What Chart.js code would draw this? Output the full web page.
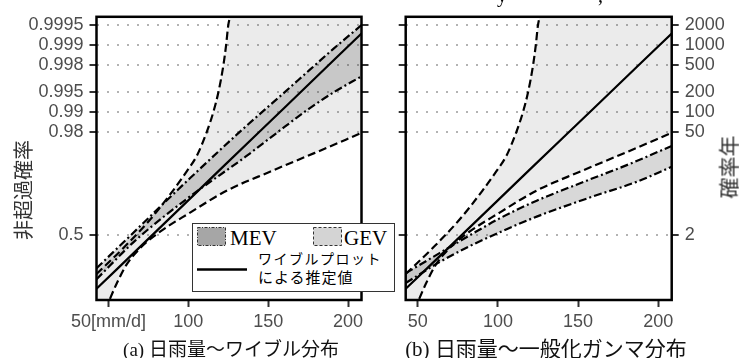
<!DOCTYPE html>
<html>
<head>
<meta charset="utf-8">
<script src="https://cdn.jsdelivr.net/npm/chart.js@4.4.1/dist/chart.umd.min.js"></script>
<style>
  body { margin: 0; background: #fff; }
  #wrap { position: relative; width: 739px; height: 358px; overflow: hidden; }
  #wrap canvas { position: absolute; left: 0; top: 0; }
  .txt { position: absolute; white-space: nowrap; line-height: 1; }
  .jp { font-family: 'Noto Sans CJK JP', sans-serif; }
  .serif { font-family: 'Liberation Serif', 'DejaVu Serif', serif; }
  .rot { transform: translate(-50%, -50%) rotate(-90deg); color: #333; }
  .cap { transform: translateX(-50%); font-size: 20px; color: #111; }
  #legend { position: absolute; left: 192px; top: 223px; width: 203px; height: 69px;
            box-sizing: border-box; border: 1px solid #333; background: #fff; }
</style>
</head>
<body>
<div id="wrap">
  <canvas id="chartA" width="739" height="358"></canvas>
  <canvas id="chartB" width="739" height="358"></canvas>

  <!-- bottom edge of a text line that sits above the figure -->
  <div class="txt serif" style="left:497px; top:-15.5px; font-size:20px;">y</div>
  <div class="txt serif" style="left:598px; top:-15.5px; font-size:20px;">,</div>

  <div class="txt jp rot" style="left:23px; top:190px; font-size:20px;">非超過確率</div>
  <div class="txt jp rot" style="left:728px; top:167px; font-size:21px;">確率年</div>

  <div class="txt cap" style="left:231px; top:338px; font-size:19px;"><span class="serif">(a)</span> <span class="jp">日雨量〜ワイブル分布</span></div>
  <div class="txt cap" style="left:546px; top:337px; font-size:21px;"><span class="serif">(b)</span> <span class="jp">日雨量〜一般化ガンマ分布</span></div>

  <div id="legend">
    <svg width="201" height="67" style="position:absolute; left:0; top:0;">
      <rect x="4.5" y="3.5" width="28" height="18" fill="#a6a6a6" stroke="#333" stroke-width="1" stroke-dasharray="3 1.5 1 1.5"/>
      <rect x="120.5" y="3.5" width="28" height="18" fill="#d4d4d4" stroke="#333" stroke-width="1" stroke-dasharray="3 2"/>
      <line x1="4" y1="45.5" x2="54" y2="45.5" stroke="#000" stroke-width="2.5"/>
    </svg>
    <div class="txt serif" style="left:37px; top:4px; font-size:21px;">MEV</div>
    <div class="txt serif" style="left:151px; top:4px; font-size:21px;">GEV</div>
    <div class="txt jp" style="left:65px; top:27px; font-size:14px; letter-spacing:1.5px;">ワイブルプロット</div>
    <div class="txt jp" style="left:65px; top:45px; font-size:15px; letter-spacing:1px;">による推定値</div>
  </div>
</div>

<script>
// x: daily rainfall [mm/d]; y: Gumbel reduced variate -ln(-ln F)
const xTicks = [50, 100, 150, 200];
const xLabelsA = ['50[mm/d]', '100', '150', '200'];
const xLabelsB = ['50', '100', '150', '200'];
const probTicks = [0.5, 0.98, 0.99, 0.995, 0.998, 0.999, 0.9995];
const probLabels = ['0.5', '0.98', '0.99', '0.995', '0.998', '0.999', '0.9995'];
const periodLabels = ['2', '50', '100', '200', '500', '1000', '2000'];

// Weibull plotting-position estimate (same in both panels)
const plotX = [42.5, 80, 120, 160, 208.4];
const plotY = [-1.50, 0.49, 2.62, 4.74, 7.31];

// GEV confidence band (same in both panels); last/first points lie off the axis
const gevUpX = [42.5, 59.2, 76.1, 90.4, 99.2, 105.3, 111.5, 115.6, 118.8, 121.9, 123.6, 125.0, 126.1, 208.4];
const gevUpY = [-0.99, -0.10, 0.89, 1.89, 2.57, 3.09, 3.91, 4.59, 5.28, 6.20, 6.89, 7.60, 7.89, 30];
const gevLoX = [42.5, 50.6, 55.3, 61.5, 69.8, 80.0, 101.1, 124.2, 151.1, 179.2, 208.4];
const gevLoY = [-3.0, -1.89, -1.30, -0.65, -0.10, 0.38, 1.13, 1.89, 2.54, 3.19, 3.88];

// MEV band, (a) Weibull daily distribution
const mevAUpX = [42.5, 63.8, 82.5, 101.3, 131.3, 159.4, 176.3, 190.6, 208.4];
const mevAUpY = [-0.79, 0.34, 1.34, 2.33, 3.87, 5.24, 6.07, 6.77, 7.60];
const mevALoX = [42.5, 66.9, 99.2, 135.6, 154.4, 175.2, 191.9, 208.4];
const mevALoY = [-1.17, 0.17, 1.61, 3.05, 3.84, 4.70, 5.31, 5.83];

// MEV band, (b) generalized gamma daily distribution
const mevBUpX = [42.5, 63.6, 82.3, 101.1, 124.2, 155.3, 182.3, 208.4];
const mevBUpY = [-0.96, -0.27, 0.34, 0.93, 1.54, 2.23, 2.81, 3.43];
const mevBLoX = [42.5, 63.6, 82.3, 101.1, 124.2, 157.3, 186.5, 208.4];
const mevBLoY = [-1.30, -0.58, -0.03, 0.45, 0.99, 1.65, 2.19, 2.71];

const xMin = 42.5, xMax = 208.4;
const yMin = -1.886, yMax = 7.885;

const sans = "'Liberation Sans', Arial, sans-serif";
const gumbel = p => -Math.log(-Math.log(p));
const pts = (xs, ys) => xs.map((x, i) => ({ x: x, y: ys[i] }));

function lineSet(xs, ys, dash, fill, bg) {
  return {
    data: pts(xs, ys),
    borderColor: '#000',
    borderWidth: 2.2,
    borderDash: dash,
    pointRadius: 0,
    cubicInterpolationMode: 'monotone',
    fill: fill,
    backgroundColor: bg || 'transparent'
  };
}

function yAxis(position, labels, width) {
  return {
    type: 'linear',
    position: position,
    min: yMin,
    max: yMax,
    afterBuildTicks: s => { s.ticks = probTicks.map(p => ({ value: gumbel(p) })); },
    afterFit: s => { s.width = width; },
    ticks: {
      display: !!labels,
      callback: (v, i) => labels ? labels[i] : '',
      font: { family: sans, size: 18 },
      color: '#4d4d4d',
      padding: 6
    },
    grid: {
      drawOnChartArea: position === 'left',
      color: '#b3b3b3',
      lineWidth: 2,
      tickColor: '#333',
      tickWidth: 2,
      tickLength: 7,
      tickBorderDash: []
    },
    border: { display: false, dash: [2, 8] }
  };
}

const framePlugin = {
  id: 'frame',
  afterDatasetsDraw(chart) {
    const { ctx, chartArea: a } = chart;
    ctx.save();
    ctx.strokeStyle = '#000';
    ctx.lineWidth = 2.5;
    ctx.strokeRect(a.left, a.top, a.right - a.left, a.bottom - a.top);
    ctx.restore();
  }
};

function makePanel(id, mev, xLabels, leftLabels, rightLabels, pad, leftW, rightW) {
  new Chart(document.getElementById(id), {
    type: 'line',
    data: {
      datasets: [
        lineSet(plotX, plotY, [], false),
        lineSet(mev[0], mev[1], [8, 3, 2, 3], '+1', 'rgba(60,60,60,0.2)'),
        lineSet(mev[2], mev[3], [8, 3, 2, 3], false),
        lineSet(gevUpX, gevUpY, [8, 4], '+1', 'rgba(60,60,60,0.1)'),
        lineSet(gevLoX, gevLoY, [8, 4], false)
      ]
    },
    options: {
      responsive: false,
      animation: false,
      devicePixelRatio: 1,
      layout: { padding: pad },
      plugins: {
        legend: { display: false },
        tooltip: { enabled: false },
        filler: { drawTime: 'beforeDatasetsDraw' }
      },
      scales: {
        x: {
          type: 'linear',
          min: xMin,
          max: xMax,
          afterBuildTicks: s => { s.ticks = xTicks.map(v => ({ value: v })); },
          afterFit: s => { s.height = 58; },
          ticks: {
            callback: (v, i) => xLabels[i],
            font: { family: sans, size: 18 },
            color: '#4d4d4d',
            padding: 4,
            maxRotation: 0,
            autoSkip: false
          },
          grid: { drawOnChartArea: false, tickColor: '#333', tickWidth: 2, tickLength: 7 },
          border: { display: false }
        },
        y: yAxis('left', leftLabels, leftW),
        y2: yAxis('right', rightLabels, rightW)
      }
    },
    plugins: [framePlugin]
  });
}

makePanel('chartA', [mevAUpX, mevAUpY, mevALoX, mevALoY], xLabelsA, probLabels, null,
  { left: 0, top: 15, right: 357.5, bottom: 0 }, 96.5, 20);
makePanel('chartB', [mevBUpX, mevBUpY, mevBLoX, mevBLoY], xLabelsB, null, periodLabels,
  { left: 385.7, top: 15, right: 0, bottom: 0 }, 20, 67.3);
</script>
</body>
</html>
